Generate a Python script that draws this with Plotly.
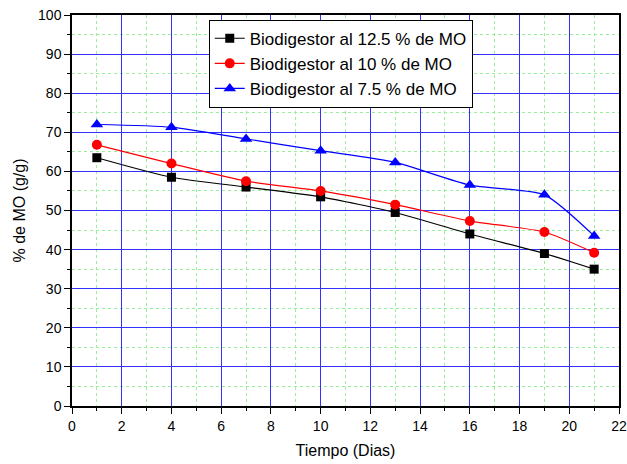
import plotly.graph_objects as go

dias = [1, 4, 7, 10, 13, 16, 19, 21]
mo_125 = [63.5, 58.5, 56.0, 53.5, 49.5, 44.0, 39.0, 35.0]
mo_10 = [66.8, 62.0, 57.5, 55.0, 51.5, 47.3, 44.5, 39.2]
mo_75 = [72.0, 71.3, 68.3, 65.3, 62.3, 56.5, 54.0, 43.5]
names = ["Biodigestor al 12.5 % de MO", "Biodigestor al 10 % de MO", "Biodigestor al 7.5 % de MO"]

FONT = "Liberation Sans, Arial"

fig = go.Figure()
fig.add_trace(go.Scatter(x=dias, y=mo_125, name=names[0], mode="lines+markers",
                         line=dict(color="black", width=1.2, shape="spline", smoothing=0.6),
                         marker=dict(symbol="square", size=9, color="black")))
fig.add_trace(go.Scatter(x=dias, y=mo_10, name=names[1], mode="lines+markers",
                         line=dict(color="red", width=1.2, shape="spline", smoothing=0.6),
                         marker=dict(symbol="circle", size=10, color="red")))
fig.add_trace(go.Scatter(x=dias, y=mo_75, name=names[2], mode="lines+markers",
                         line=dict(color="blue", width=1.2, shape="spline", smoothing=0.6),
                         marker=dict(symbol="triangle-up", size=11, color="blue")))

axis_common = dict(showline=True, linecolor="black", linewidth=1.5, mirror=True,
                   ticks="outside", ticklen=6, tickcolor="black", tickwidth=1.2,
                   gridcolor="#3333ff", gridwidth=1, zeroline=False, automargin=False,
                   ticklabeloverflow="allow",
                   tickfont=dict(family=FONT, size=14, color="black"))

fig.update_xaxes(range=[0, 22], dtick=2, **axis_common,
                 minor=dict(dtick=1, ticks="outside", ticklen=3, tickcolor="black",
                            showgrid=True, gridcolor="#99ee99", griddash="dot", gridwidth=1),
                 title=dict(text="Tiempo (Dias)", font=dict(family=FONT, size=16, color="black"), standoff=12))
fig.update_yaxes(range=[0, 100], dtick=10, **axis_common,
                 minor=dict(dtick=5, ticks="outside", ticklen=3, tickcolor="black",
                            showgrid=True, gridcolor="#99ee99", griddash="dot", gridwidth=1),
                 title=dict(text="% de MO (g/g)", font=dict(family=FONT, size=16, color="black"), standoff=8))

fig.update_layout(width=627, height=464, margin=dict(l=72, r=8, t=15, b=58),
                  plot_bgcolor="white", paper_bgcolor="white",
                  legend=dict(x=0.250, y=0.988, xanchor="left", yanchor="top",
                              bgcolor="white", bordercolor="black", borderwidth=1,
                              font=dict(family=FONT, size=17, color="black"),
                              tracegroupgap=0, itemwidth=30),
                  showlegend=True)

fig.write_html("out.html", config={"displayModeBar": False},
               post_script="document.body.style.margin='0';document.body.style.overflow='hidden';")
